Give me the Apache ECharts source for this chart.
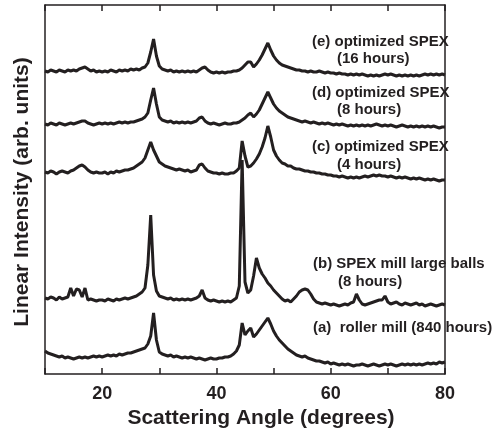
<!DOCTYPE html>
<html>
<head>
<meta charset="utf-8">
<script src="https://cdn.jsdelivr.net/npm/echarts@6/dist/echarts.min.js"></script>
<style>
  html, body { margin: 0; padding: 0; background: #fff; }
  #xrd { width: 496px; height: 433px; }
</style>
</head>
<body>
<div id="xrd"></div>
<script>
// sampling grid of the scans: 10 to 80 degrees, every 0.5 degree
var angles = [];
for (var a = 10; a <= 80; a += 0.5) angles.push(a);

// intensities (arb. units, traces already stacked), one row = 5 degrees
var rollerMill = [
  23,21,20,19,18,17,18,16,17,16,
  15,16,17,16,17,16,17,18,17,18,
  17,18,19,18,19,18,20,19,20,21,
  21,22,23,24,25,26,30,38,61,34,
  22,20,19,18,19,17,18,17,16,17,
  16,17,16,15,16,15,14,15,16,15,
  15,16,16,17,17,18,20,23,29,51,
  39,43,46,37,40,44,48,52,56,50,
  43,38,34,31,28,25,23,21,19,18,
  17,18,16,15,14,13,13,12,11,12,
  10,11,10,9,10,9,10,9,8,9,
  9,10,9,8,9,10,9,8,9,10,
  9,10,9,8,9,10,9,10,9,10,
  9,10,9,10,11,10,11,10,12,11,
  12
];
var spexLargeBalls = [
  76,75,77,76,74,77,75,76,77,86,
  78,85,84,77,86,74,75,74,73,74,
  74,73,75,74,73,75,74,75,76,75,
  76,77,78,80,82,86,109,159,99,83,
  78,77,76,75,76,74,75,74,75,74,
  75,74,75,76,78,84,76,74,73,74,
  73,72,73,72,73,72,74,76,88,214,
  92,81,84,98,116,106,100,96,91,88,
  84,81,78,75,73,74,72,75,78,82,
  84,85,84,80,75,72,71,70,71,70,
  69,70,69,68,69,70,69,71,72,80,
  74,70,69,70,71,72,73,74,74,78,
  72,70,71,72,70,69,71,70,69,70,
  71,69,70,68,69,70,69,68,69,70,
  69
];
var optSpex4h = [
  202,201,203,202,200,202,203,202,201,203,
  204,206,208,209,207,204,202,201,202,201,
  201,202,200,202,201,203,202,203,204,204,
  205,206,208,210,212,216,224,232,224,218,
  212,210,208,207,206,205,204,205,204,203,
  204,202,203,204,209,210,206,203,202,201,
  201,200,201,200,200,201,201,203,206,233,
  218,207,208,211,215,220,227,236,248,237,
  224,218,214,211,210,208,208,206,205,205,
  204,203,203,202,202,201,201,200,200,199,
  199,198,198,197,198,197,196,197,196,197,
  196,197,198,197,198,199,198,199,198,198,
  197,198,197,196,197,196,197,196,195,196,
  195,196,195,194,195,194,195,194,193,194,
  194
];
var optSpex8h = [
  250,249,251,250,249,251,250,249,250,251,
  250,251,252,253,253,251,250,249,250,251,
  250,251,250,251,250,251,252,251,252,251,
  252,252,253,254,255,257,261,274,286,270,
  257,254,253,252,253,251,252,251,252,251,
  252,251,252,253,256,257,253,251,250,251,
  250,249,250,251,250,250,251,251,252,254,
  256,259,261,257,260,264,270,276,282,276,
  270,266,263,261,259,257,256,255,254,253,
  252,253,252,251,252,251,250,251,250,251,
  250,249,250,249,250,249,248,249,248,249,
  248,249,248,249,248,249,250,249,248,249,
  248,249,248,247,248,249,248,247,248,247,
  248,247,248,247,248,247,248,247,246,247,
  247
];
var optSpex16h = [
  303,302,304,303,302,304,303,302,304,303,
  304,303,305,306,307,305,303,304,302,303,
  302,303,302,304,303,302,304,303,304,303,
  305,304,305,304,306,307,311,322,335,318,
  308,305,304,303,304,302,303,302,303,302,
  303,302,303,302,304,306,307,304,302,301,
  302,301,302,301,302,302,303,303,304,306,
  309,312,312,307,310,314,319,325,331,324,
  318,314,311,309,308,307,306,305,304,304,
  303,303,302,303,302,302,303,302,301,302,
  301,301,300,301,300,300,299,300,299,300,
  299,300,299,298,299,298,299,298,299,300,
  299,300,299,298,299,298,299,298,299,298,
  299,298,299,300,299,300,299,300,299,300,
  299
];

var traces = [rollerMill, spexLargeBalls, optSpex4h, optSpex8h, optSpex16h];
var xTicks = [20, 40, 60, 80];

var labels = [
  { text: '(e) optimized SPEX', x: 312, y: 42 },
  { text: '(16 hours)', x: 337, y: 59 },
  { text: '(d) optimized SPEX', x: 312, y: 93 },
  { text: '(8 hours)', x: 337, y: 110 },
  { text: '(c) optimized SPEX', x: 312, y: 147 },
  { text: '(4 hours)', x: 337, y: 165 },
  { text: '(b) SPEX mill large balls', x: 313, y: 264 },
  { text: '(8 hours)', x: 338, y: 282 },
  { text: '(a)  roller mill (840 hours)', x: 313, y: 328 }
];

var chart = echarts.init(document.getElementById('xrd'), null, { renderer: 'canvas' });
var fontFam = '"Liberation Sans", Arial, Helvetica, sans-serif';
var ink = '#231f20';

var series = traces.map(function (vals) {
  return {
    type: 'line',
    data: vals.map(function (v, i) { return [angles[i], v]; }),
    showSymbol: false,
    lineStyle: { color: ink, width: 3 },
    silent: true
  };
});

var graphics = labels.map(function (l) {
  return {
    type: 'text',
    x: l.x,
    y: l.y,
    style: {
      text: l.text,
      font: 'bold 15px ' + fontFam,
      fill: ink,
      align: 'left',
      verticalAlign: 'middle',
      textAlign: 'left',
      textVerticalAlign: 'middle'
    }
  };
});
graphics.push({
  type: 'text',
  x: 261,
  y: 418,
  style: {
    text: 'Scattering Angle (degrees)',
    font: 'bold 21px ' + fontFam,
    fill: ink,
    align: 'center', verticalAlign: 'middle',
    textAlign: 'center', textVerticalAlign: 'middle'
  }
});
graphics.push({
  type: 'text',
  x: 22,
  y: 192,
  rotation: Math.PI / 2,
  style: {
    text: 'Linear Intensity (arb. units)',
    font: 'bold 21px ' + fontFam,
    fill: ink,
    align: 'center', verticalAlign: 'middle',
    textAlign: 'center', textVerticalAlign: 'middle'
  }
});

var option = {
  animation: false,
  backgroundColor: '#fff',
  grid: { left: 45, right: 51, top: 5, bottom: 59 },
  xAxis: [
    {
      type: 'value',
      position: 'bottom',
      min: 10,
      max: 80,
      interval: 10,
      axisLine: { show: true, onZero: false, lineStyle: { color: ink, width: 1.5 } },
      axisTick: { show: true, inside: true, length: 6, lineStyle: { color: ink, width: 1.5 } },
      axisLabel: {
        margin: 11,
        color: ink,
        fontSize: 18,
        fontWeight: 'bold',
        fontFamily: fontFam,
        formatter: function (v) { return xTicks.indexOf(v) >= 0 ? String(v) : ''; }
      },
      splitLine: { show: false }
    },
    {
      type: 'value',
      position: 'top',
      min: 10,
      max: 80,
      interval: 10,
      axisLine: { show: true, onZero: false, lineStyle: { color: ink, width: 1.5 } },
      axisTick: { show: true, inside: true, length: 6, lineStyle: { color: ink, width: 1.5 } },
      axisLabel: { show: false },
      splitLine: { show: false }
    }
  ],
  yAxis: [
    {
      type: 'value',
      position: 'left',
      min: 0,
      max: 369,
      axisLine: { show: true, onZero: false, lineStyle: { color: ink, width: 1.5 } },
      axisTick: { show: false },
      axisLabel: { show: false },
      splitLine: { show: false }
    },
    {
      type: 'value',
      position: 'right',
      min: 0,
      max: 369,
      axisLine: { show: true, onZero: false, lineStyle: { color: ink, width: 1.5 } },
      axisTick: { show: false },
      axisLabel: { show: false },
      splitLine: { show: false }
    }
  ],
  series: series,
  graphic: graphics
};
option && chart.setOption(option);
</script>
</body>
</html>
